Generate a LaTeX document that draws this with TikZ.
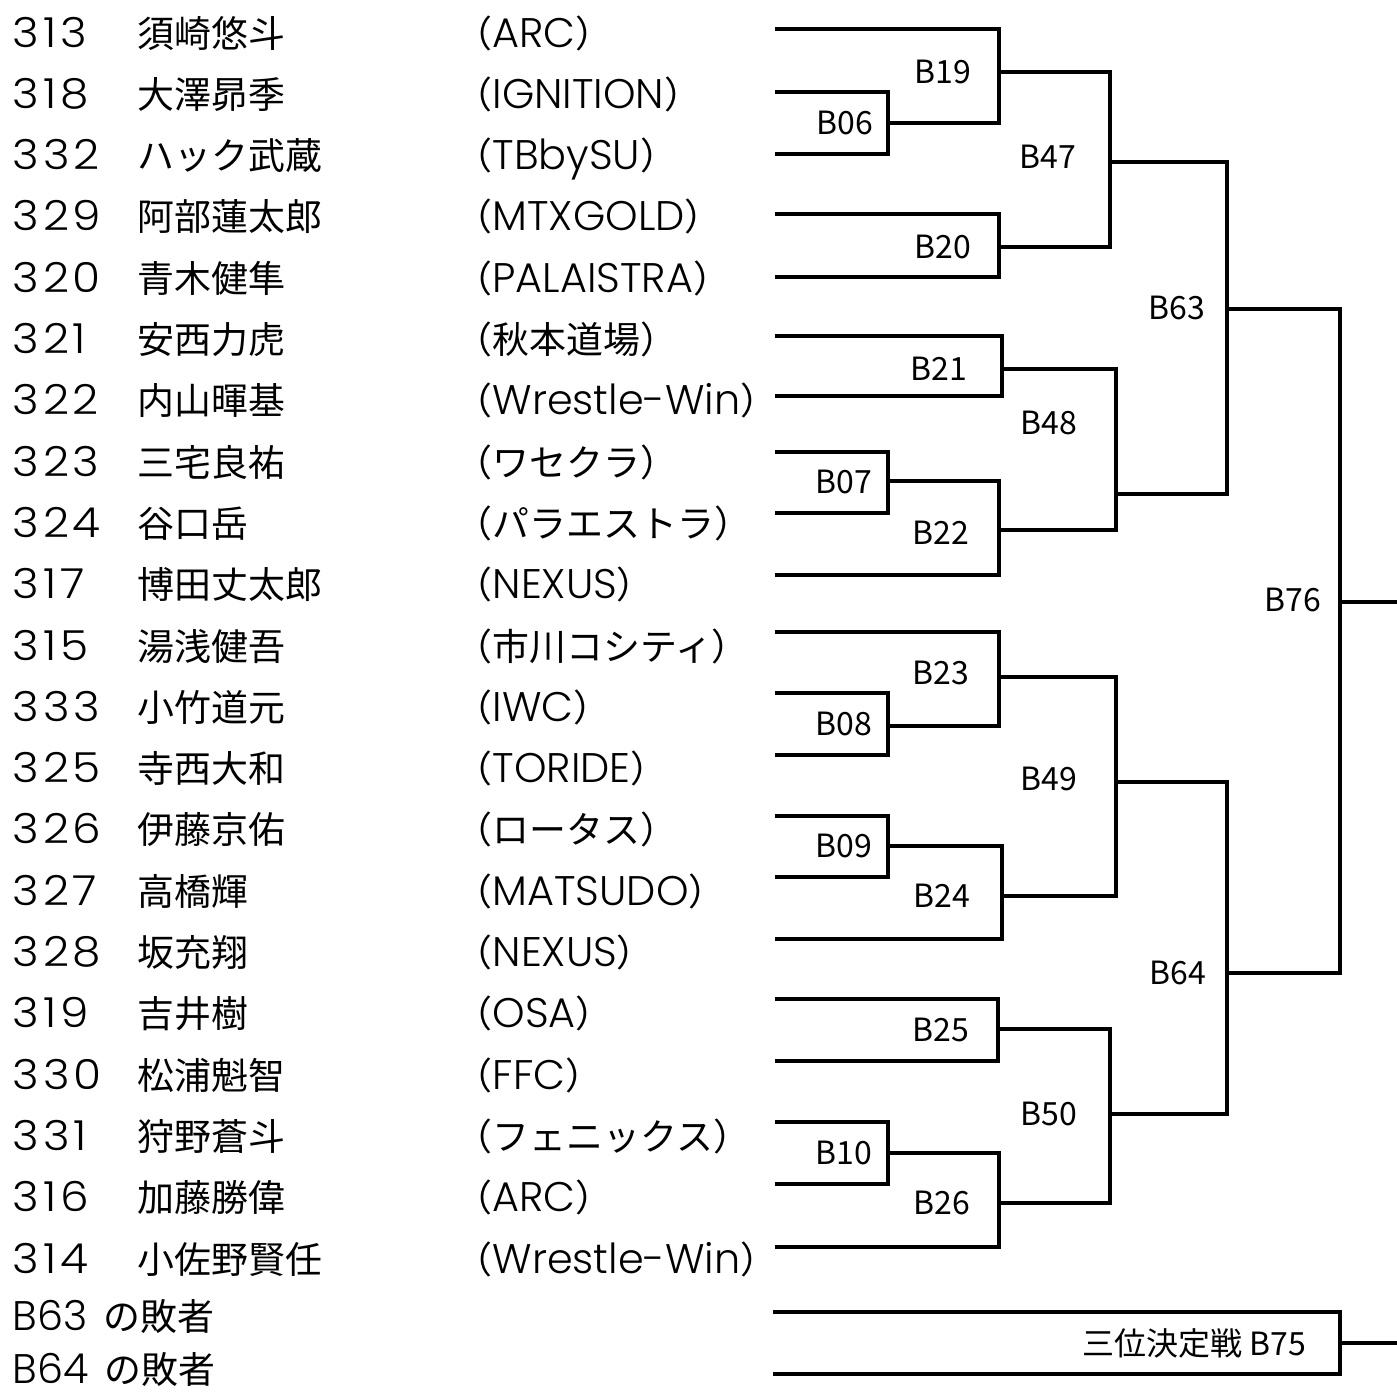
\documentclass[tikz,border=0pt]{standalone}
\usepackage{fontspec}
\setmainfont{Noto Sans CJK JP}
\newfontfamily\lat[Scale=1.12]{Poppins Light}
\newfontfamily\digits[Scale=1.12, FakeStretch=1.1, LetterSpace=9]{Poppins Light}

\begin{document}
\begin{tikzpicture}[x=0.01cm, y=-0.01cm,
    bracket/.style={line width=1.4pt, line join=miter},
    lbl/.style={anchor=east, inner sep=0pt, font=\fontsize{9.1}{11}\selectfont},
    num/.style={anchor=base west, inner sep=0pt, font=\fontsize{10.5}{12}\digits},
    who/.style={anchor=base west, inner sep=0pt, font=\fontsize{10.5}{12}\selectfont}]

    \useasboundingbox (0,0) rectangle (1397,1396);

    % entrants
    \foreach \n/\nm/\tm [count=\i from 0] in {
        313/須崎悠斗/\lat ARC,
        318/大澤昴季/\lat IGNITION,
        332/ハック武蔵/\lat TBbySU,
        329/阿部蓮太郎/\lat MTXGOLD,
        320/青木健隼/\lat PALAISTRA,
        321/安西力虎/秋本道場,
        322/内山暉基/\lat Wrestle-Win,
        323/三宅良祐/ワセクラ,
        324/谷口岳/パラエストラ,
        317/博田丈太郎/\lat NEXUS,
        315/湯浅健吾/市川コシティ,
        333/小竹道元/\lat IWC,
        325/寺西大和/\lat TORIDE,
        326/伊藤京佑/ロータス,
        327/高橋輝/\lat MATSUDO,
        328/坂充翔/\lat NEXUS,
        319/吉井樹/\lat OSA,
        330/松浦魁智/\lat FFC,
        331/狩野蒼斗/フェニックス,
        316/加藤勝偉/\lat ARC,
        314/小佐野賢任/\lat Wrestle-Win}{
        \node[num] (n\i) at (12, 47+61.3*\i) {\n};
        \node[who] (a\i) at (137, 47+61.3*\i) {\nm};
        \node[who] (t\i) at (455, 47+61.3*\i) {（{\tm}）};
    }
    \node[num] (x63) at (12, 1330) {{\lat B63} {\rmfamily の敗者}};
    \node[num] (x64) at (12, 1383) {{\lat B64} {\rmfamily の敗者}};

    % line ends
    \foreach \y [count=\i from 0] in {29,92,154,214,277,336,396,452,513,575,
        632,693,755,816,877,939,999,1061,1122,1184,1247}
        \coordinate (e\i) at (775,\y);
    \coordinate (f63) at (773,1312);
    \coordinate (f64) at (773,1374);

    % matches
    \coordinate (m06) at (888,123);
    \coordinate (m19) at (999,72);
    \coordinate (m20) at (999,247);
    \coordinate (m47) at (1110,162);
    \coordinate (m21) at (1002,369);
    \coordinate (m07) at (888,481);
    \coordinate (m22) at (999,530);
    \coordinate (m48) at (1116,494);
    \coordinate (m63) at (1227,309);
    \coordinate (m08) at (888,726);
    \coordinate (m23) at (999,677);
    \coordinate (m09) at (888,846);
    \coordinate (m24) at (1002,896);
    \coordinate (m49) at (1116,782);
    \coordinate (m25) at (998,1029);
    \coordinate (m10) at (888,1153);
    \coordinate (m26) at (999,1203);
    \coordinate (m50) at (1110,1114);
    \coordinate (m64) at (1227,973);
    \coordinate (m76) at (1340,602);
    \coordinate (m75) at (1340,1343);
    \coordinate (w76) at (1397,602);
    \coordinate (w75) at (1397,1343);

    \draw[bracket] (e1) -| (m06) |- (e2);
    \draw[bracket] (e0) -| (m19) |- (m06);
    \draw[bracket] (e3) -| (m20) |- (e4);
    \draw[bracket] (m19) -| (m47) |- (m20);
    \draw[bracket] (e5) -| (m21) |- (e6);
    \draw[bracket] (e7) -| (m07) |- (e8);
    \draw[bracket] (m07) -| (m22) |- (e9);
    \draw[bracket] (m21) -| (m48) |- (m22);
    \draw[bracket] (m47) -| (m63) |- (m48);
    \draw[bracket] (e11) -| (m08) |- (e12);
    \draw[bracket] (e10) -| (m23) |- (m08);
    \draw[bracket] (e13) -| (m09) |- (e14);
    \draw[bracket] (m09) -| (m24) |- (e15);
    \draw[bracket] (m23) -| (m49) |- (m24);
    \draw[bracket] (e16) -| (m25) |- (e17);
    \draw[bracket] (e18) -| (m10) |- (e19);
    \draw[bracket] (m10) -| (m26) |- (e20);
    \draw[bracket] (m25) -| (m50) |- (m26);
    \draw[bracket] (m49) -| (m64) |- (m50);
    \draw[bracket] (m63) -| (m76) |- (m64);
    \draw[bracket] (m76) -- (w76);
    \draw[bracket] (f63) -| (m75) |- (f64);
    \draw[bracket] (m75) -- (w75);

    \node[lbl] (l06) at (874,123) {B06};
    \node[lbl] (l19) at (972,72) {B19};
    \node[lbl] (l20) at (972,247) {B20};
    \node[lbl] (l47) at (1077,157) {B47};
    \node[lbl] (l21) at (968,369) {B21};
    \node[lbl] (l07) at (873,482) {B07};
    \node[lbl] (l22) at (970,533) {B22};
    \node[lbl] (l48) at (1078,423) {B48};
    \node[lbl] (l63) at (1206,308) {B63};
    \node[lbl] (l23) at (970,673) {B23};
    \node[lbl] (l08) at (873,724) {B08};
    \node[lbl] (l09) at (873,846) {B09};
    \node[lbl] (l24) at (971,896) {B24};
    \node[lbl] (l49) at (1078,779) {B49};
    \node[lbl] (l25) at (970,1030) {B25};
    \node[lbl] (l10) at (873,1153) {B10};
    \node[lbl] (l26) at (971,1203) {B26};
    \node[lbl] (l50) at (1078,1114) {B50};
    \node[lbl] (l64) at (1207,973) {B64};
    \node[lbl] (l76) at (1322,600) {B76};
    \node[lbl] (l75) at (1307,1343) {三位決定戦 B75};
\end{tikzpicture}
\end{document}
